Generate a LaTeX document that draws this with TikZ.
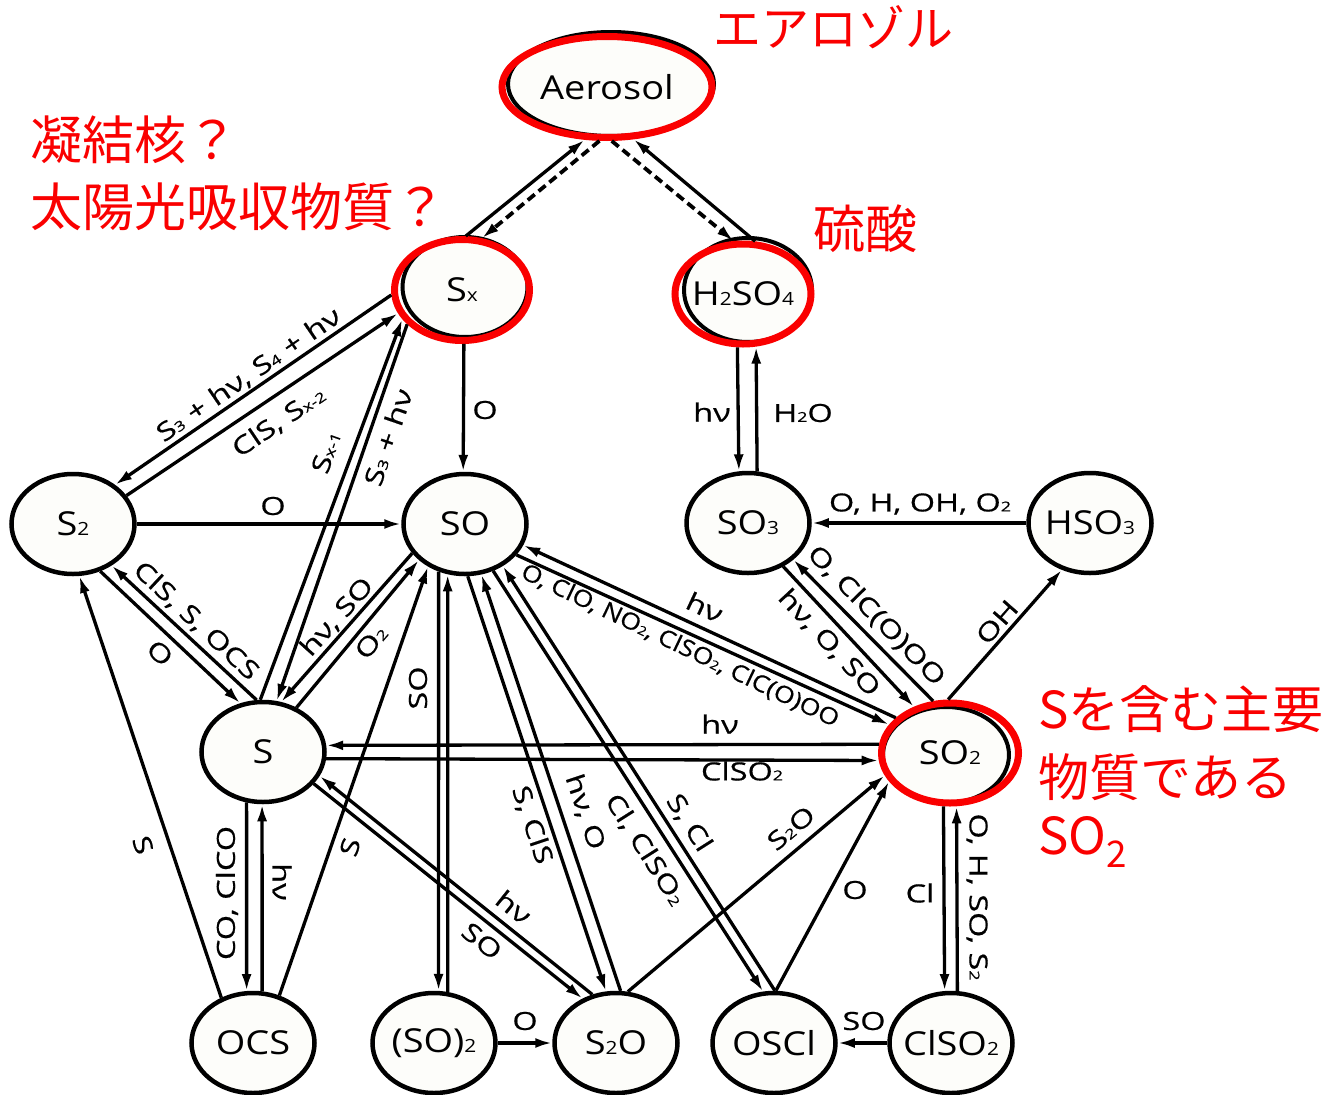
\documentclass[tikz,border=0pt]{standalone}
\usepackage{fontspec}
\usepackage{graphicx}
\setmainfont{Open Sans}[FakeStretch=1.15]
\newfontfamily\labfont{Open Sans}[FakeStretch=1.3,FakeBold=0.6]
\newfontfamily\longfont{Open Sans}[FakeStretch=1.15,FakeBold=0.6]
\newfontfamily\jpfont{Noto Sans CJK JP}
\usetikzlibrary{shapes.geometric,arrows.meta}
\definecolor{hlred}{RGB}{250,0,0}
\definecolor{nodefill}{RGB}{253,253,250}
\newcommand{\sbx}[1]{\scalebox{0.55}{#1}}
\newcommand{\nfont}{\fontsize{33pt}{33pt}\selectfont}
\newcommand{\lfont}{\labfont\fontsize{25pt}{25pt}\selectfont}
\tikzset{
  spc/.style={ellipse, draw=black, line width=4.5pt, fill=nodefill, minimum width=123pt, minimum height=100pt, inner sep=-6pt, font=\nfont},
  shad/.style={ellipse, draw=black, line width=4pt, fill=nodefill, inner sep=0pt},
  hl/.style={ellipse, draw=hlred, line width=7pt, inner sep=-6pt, font=\nfont},
  arr/.style={line width=3.3pt, -{Latex[length=17pt,width=10pt]}},
  dsh/.style={line width=3.8pt, dash pattern=on 9pt off 5pt},
  lab/.style={font=\lfont, inner sep=0pt},
  longlab/.style={font=\longfont\fontsize{23pt}{23pt}\selectfont, inner sep=0pt},
  jp/.style={text=hlred, inner sep=0pt, anchor=base west},
}
\begin{document}
\begin{tikzpicture}[x=1pt,y=-1pt]
\useasboundingbox (0,0) rectangle (1326,1095);
\fill[white] (0,0) rectangle (1326,1095);

% highlighted nodes (black shadow ellipse + red ring)
\node[shad, minimum width=206pt, minimum height=104pt] (aerB) at (611,84) {};
\node[hl, minimum width=210pt, minimum height=101pt] (aer) at (607,87) {Aerosol};
\node[shad, minimum width=125pt, minimum height=100pt] (SxB) at (465,287) {};
\node[hl, minimum width=135pt, minimum height=101pt] (Sx) at (462,290) {S\sbx{x}};
\node[shad, minimum width=128pt, minimum height=104pt] (H2B) at (748,290) {};
\node[hl, minimum width=136pt, minimum height=100pt] (H2) at (743,294) {H\sbx{2}SO\sbx{4}};
\node[shad, minimum width=126pt, minimum height=96pt] (SO2B) at (946,755) {};
\node[hl, minimum width=137pt, minimum height=100pt] (SO2) at (950,753) {SO\sbx{2}};

% ordinary nodes
\node[spc] (S2) at (73,524) {S\sbx{2}};
\node[spc] (SO) at (465,524) {SO};
\node[spc] (SO3) at (748,523) {SO\sbx{3}};
\node[spc] (HSO3) at (1090,523) {HSO\sbx{3}};
\node[spc] (S) at (263,752) {S};
\node[spc] (OCS) at (253,1043) {OCS};
\node[spc] (SOd) at (434,1043) {(SO)\sbx{2}};
\node[spc] (S2O) at (616,1043) {S\sbx{2}O};
\node[spc] (OSCl) at (774,1043) {OSCl};
\node[spc] (ClSO2) at (951,1043) {ClSO\sbx{2}};

% connectors
\draw[arr] (Sx.86) -- (aer.247);
\draw[arr,dsh] (aer.262) -- (Sx.69);
\draw[arr,dsh] (aer.275) -- (H2.100);
\draw[arr] (H2.77) -- (aer.297);
\draw[arr] (Sx.184) -- (S2.43);
\draw[arr] (S2.28) -- (Sx.200);
\draw[arr] (S.93) -- (Sx.206);
\draw[arr] (Sx.212) -- (S.75);
\draw[arr] (S2.0) -- (SO.180);
\draw[arr] (Sx.272) -- (SO.92);
\draw[arr] (S2.300) -- (S.115);
\draw[arr] (S.97) -- (S2.313);
\draw[arr] (SO.209) -- (S.70);
\draw[arr] (S.53) -- (SO.218);
\draw[arr] (OCS.61) -- (SO.229);
\draw[arr] (OCS.125) -- (S2.277);
\draw[arr] (S.252) -- (OCS.97.5);
\draw[arr] (OCS.80.5) -- (S.269);
\draw[arr] (SO2.173.5) -- (S.6);
\draw[arr] (S.-6) -- (SO2.186);
\draw[arr] (S2O.116) -- (S.337);
\draw[arr] (S.328.6) -- (S2O.127);
\draw[arr] (SO.241.7) -- (SOd.85.7);
\draw[arr] (SOd.75.2) -- (SO.251);
\draw[arr] (SOd.0) -- (S2O.180);
\draw[arr] (SO.273) -- (S2O.101.7);
\draw[arr] (S2O.85.7) -- (SO.288);
\draw[arr] (SO.301) -- (OSCl.102.8);
\draw[arr] (OSCl.89) -- (SO.312.4);
\draw[arr] (SO2.147) -- (SO.340.7);
\draw[arr] (SO.329.7) -- (SO2.155.6);
\draw[arr] (SO3.309.7) -- (SO2.128);
\draw[arr] (SO2.108.8) -- (SO3.321.3);
\draw[arr] (H2.264.7) -- (SO3.100.7);
\draw[arr] (SO3.80.2) -- (H2.284.8);
\draw[arr] (HSO3.180) -- (SO3.0);
\draw[arr] (SO2.92) -- (HSO3.239);
\draw[arr] (S2O.77) -- (SO2.199);
\draw[arr] (OSCl.88) -- (SO2.205.5);
\draw[arr] (SO2.263.7) -- (ClSO2.97.5);
\draw[arr] (ClSO2.83.5) -- (SO2.277.4);
\draw[arr] (ClSO2.180) -- (OSCl.0);

% connector labels
\node[lab, rotate=34.4] (l1) at (249,375) {S\sbx{3} + hν, S\sbx{4} + hν};
\node[lab, rotate=34] (l2) at (279,422) {ClS, S\sbx{x-2}};
\node[lab, rotate=70.5] (l3) at (326,452) {S\sbx{x-1}};
\node[lab, rotate=71] (l4) at (388,437) {S\sbx{3} + hν};
\node[lab] (l5) at (273,506) {O};
\node[lab] (l6) at (485,410) {O};
\node[lab, rotate=-43] (l7) at (196,621) {ClS, S, OCS};
\node[lab, rotate=-43] (l8) at (160,653) {O};
\node[lab, rotate=48] (l9) at (337,617) {hν, SO};
\node[lab, rotate=50] (l10) at (371,642) {O\sbx{2}};
\node[lab, rotate=-25] (l11) at (705,607) {hν};
\node[longlab, rotate=-25.5] (l12) at (680,646) {O, ClO, NO\sbx{2}, ClSO\sbx{2}, ClC(O)OO};
\node[lab, rotate=-47] (l13) at (829,643) {hν, O, SO};
\node[lab, rotate=-45.6] (l14) at (876,616) {O, ClC(O)OO};
\node[lab] (l15) at (712,412) {hν};
\node[lab] (l16) at (803,413) {H\sbx{2}O};
\node[lab] (l17) at (920,504) {O, H, OH, O\sbx{2}};
\node[lab, rotate=48.8] (l18) at (997,622) {OH};
\node[lab] (l19) at (720,724) {hν};
\node[lab] (l20) at (742,771) {ClSO\sbx{2}};
\node[lab, rotate=-71.5] (l21) at (143,845) {S};
\node[lab, rotate=90] (l22) at (227,893) {CO, ClCO};
\node[lab, rotate=-90] (l23) at (282,882) {hν};
\node[lab, rotate=72] (l24) at (350,847) {S};
\node[lab, rotate=90] (l25) at (418,688) {SO};
\node[lab, rotate=-38.6] (l26) at (514,907) {hν};
\node[lab, rotate=-38.6] (l27) at (482,941) {SO};
\node[lab, rotate=-71.6] (l28) at (532,825) {S, ClS};
\node[lab, rotate=-71.6] (l29) at (585,812) {hν, O};
\node[lab, rotate=-57.6] (l30) at (645,850) {Cl, ClSO\sbx{2}};
\node[lab, rotate=-57.6] (l31) at (689,823) {S, Cl};
\node[lab, rotate=40] (l32) at (791,828) {S\sbx{2}O};
\node[lab] (l33) at (855,890) {O};
\node[lab] (l34) at (920,893) {Cl};
\node[lab, rotate=-90] (l35) at (977,897) {O, H, SO, S\sbx{2}};
\node[lab] (l36) at (864,1021) {SO};
\node[lab] (l37) at (525,1021) {O};

% Japanese annotations
\node[jp, font=\jpfont\fontsize{48pt}{48pt}\selectfont] (jaer) at (713,46) {エアロゾル};
\node[jp, font=\jpfont\fontsize{52pt}{52pt}\selectfont] (jq1) at (30,159) {凝結核？};
\node[jp, font=\jpfont\fontsize{52pt}{52pt}\selectfont] (jq2) at (30,226) {太陽光吸収物質？};
\node[jp, font=\jpfont\fontsize{52pt}{52pt}\selectfont] (jh2) at (813,248) {硫酸};
\node[jp, font=\jpfont\fontsize{51pt}{51pt}\selectfont] (jr1) at (1038,728) {Sを含む主要};
\node[jp, font=\jpfont\fontsize{51pt}{51pt}\selectfont] (jr2) at (1038,796) {物質である};
\node[jp, font=\jpfont\fontsize{51pt}{51pt}\selectfont] (jr3) at (1038,854) {SO\raisebox{-13pt}{\scalebox{0.72}{2}}};
\end{tikzpicture}
\end{document}
